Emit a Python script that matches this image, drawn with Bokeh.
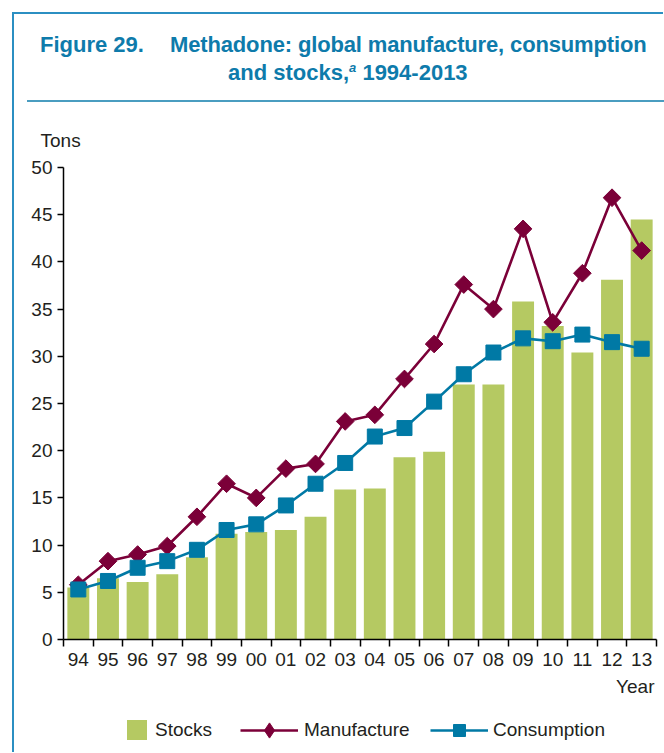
from bokeh.plotting import figure
from bokeh.models import (Range1d, FixedTicker, Legend, LegendItem, Div, Title)
from bokeh.layouts import column, row
from bokeh.embed import file_html
from bokeh.resources import INLINE
import numpy as np

years = ["94", "95", "96", "97", "98", "99", "00", "01", "02", "03",
         "04", "05", "06", "07", "08", "09", "10", "11", "12", "13"]
stocks = [5.5, 6.5, 6.1, 6.9, 8.7, 11.2, 11.4, 11.6, 13.0, 15.9,
          16.0, 19.3, 19.9, 27.0, 27.0, 35.8, 33.2, 30.4, 38.1, 44.5]
manufacture = [5.8, 8.3, 9.0, 9.9, 13.0, 16.5, 15.0, 18.1, 18.6, 23.1,
               23.8, 27.6, 31.3, 37.6, 35.0, 43.5, 33.6, 38.8, 46.8, 41.2]
consumption = [5.3, 6.2, 7.6, 8.3, 9.5, 11.6, 12.2, 14.2, 16.5, 18.7,
               21.5, 22.4, 25.2, 28.1, 30.4, 31.9, 31.6, 32.3, 31.5, 30.8]
y_ticks = [0, 5, 10, 15, 20, 25, 30, 35, 40, 45, 50]

FONT = "Liberation Sans"
TEAL = "#0e7bab"
FRAME = "#2b8fc2"
RULE = "#4a9dc0"
GREEN = "#b5c962"
WINE = "#7b0038"
BLUE = "#0079a5"
INK = "#231f20"
FS = "19px"

xc = [i + 0.5 for i in range(len(years))]

title_html = (
    f'<div style="position:relative;width:650px;height:94px;font-family:\'{FONT}\',Arial,sans-serif;'
    f'font-weight:bold;font-size:22px;line-height:22px;color:{TEAL};white-space:nowrap;">'
    f'<span style="position:absolute;left:26px;top:20px;">Figure 29.</span>'
    f'<span style="position:absolute;left:156px;top:20px;letter-spacing:-0.15px;">Methadone: global manufacture, consumption</span>'
    f'<span style="position:absolute;left:214px;top:48px;">and stocks,'
    f'<span style="font-size:13px;font-style:italic;position:relative;top:-8px;">a</span> 1994-2013</span>'
    f'<div style="position:absolute;left:13px;top:86px;width:637px;height:2px;background:{RULE};"></div>'
    f'</div>'
)
title = Div(text=title_html, width=650, height=94, margin=(0, 0, 0, 0))

p = figure(frame_width=593, frame_height=472, min_border_left=49, min_border_right=4,
           min_border_top=59, min_border_bottom=61,
           x_range=Range1d(0, len(years)), y_range=Range1d(0, 50),
           output_backend="svg", toolbar_location=None, tools="",
           margin=(0, 0, 0, 0))
p.outline_line_color = None
p.xgrid.grid_line_color = None
p.ygrid.grid_line_color = None
p.background_fill_color = "white"
p.border_fill_color = "white"

p.vbar(x=xc, top=stocks, width=0.74, fill_color=GREEN, line_color=None)
p.line(xc, manufacture, line_color=WINE, line_width=2.6)
p.scatter(xc, manufacture, marker="square", angle=np.pi / 4, size=12.5,
          fill_color=WINE, line_color=WINE)
p.line(xc, consumption, line_color=BLUE, line_width=2.6)
p.scatter(xc, consumption, marker="square", size=15, fill_color=BLUE, line_color=BLUE)

for ax in (p.xaxis[0], p.yaxis[0]):
    ax.axis_line_color = "black"
    ax.axis_line_width = 1.5
    ax.major_label_text_font = FONT
    ax.major_label_text_font_size = FS
    ax.major_label_text_color = INK

xa = p.xaxis[0]
xa.ticker = FixedTicker(ticks=xc, minor_ticks=list(range(len(years) + 1)))
xa.major_label_overrides = {x: lab for x, lab in zip(xc, years)}
xa.major_tick_line_color = None
xa.minor_tick_line_color = "black"
xa.minor_tick_line_width = 1.5
xa.minor_tick_out = 7
xa.minor_tick_in = 0
xa.major_label_standoff = 6

ya = p.yaxis[0]
ya.ticker = FixedTicker(ticks=y_ticks, minor_ticks=[])
ya.major_tick_line_color = "black"
ya.major_tick_line_width = 1.5
ya.major_tick_out = 6
ya.major_tick_in = 0
ya.major_label_standoff = 5

p.add_layout(Title(text="Tons", align="left", offset=-23, standoff=33,
                   text_font=FONT, text_font_size=FS, text_font_style="normal",
                   text_color=INK), "above")
p.add_layout(Title(text="Year", align="right", offset=2, standoff=11,
                   text_font=FONT, text_font_size=FS, text_font_style="normal",
                   text_color=INK), "below")

# legend strip (its frame lines up with the chart frame above it)
lf = figure(width=650, height=52, x_range=Range1d(0, 1), y_range=Range1d(0, 1),
            min_border=0, x_axis_location=None, y_axis_location=None,
            output_backend="svg", toolbar_location=None, tools="", margin=(0, 0, 0, 0))
lf.outline_line_color = None
lf.xgrid.grid_line_color = None
lf.ygrid.grid_line_color = None
lf.border_fill_color = "white"
off = [-10]
r_bar = lf.vbar(x=off, top=off, width=0.5, fill_color=GREEN, line_color=None)
r_ml = lf.line(x=off, y=off, line_color=WINE, line_width=2.6)
r_mp = lf.scatter(x=off, y=off, marker="diamond", fill_color=WINE, line_color=WINE)
r_cl = lf.line(x=off, y=off, line_color=BLUE, line_width=2.6)
r_cp = lf.scatter(x=off, y=off, marker="square", fill_color=BLUE, line_color=BLUE)

def mk_legend(label, rends, loc, gw, gh, standoff):
    lg = Legend(items=[LegendItem(label=label, renderers=rends)], location=loc,
                orientation="horizontal", glyph_width=gw, glyph_height=gh,
                label_standoff=standoff, padding=0, margin=0, spacing=0,
                border_line_color=None, background_fill_alpha=0,
                label_text_font=FONT, label_text_font_size=FS, label_text_color=INK)
    lf.add_layout(lg, "center")

mk_legend("Stocks", [r_bar], (61, 12), 25, 25, 6)
mk_legend("Manufacture", [r_ml, r_mp], (177, 5), 58, 38, 6)
mk_legend("Consumption", [r_cl, r_cp], (367, 9), 58, 30, 5)

top_line = Div(text="", width=651, height=2, margin=(0, 0, 0, 0),
               styles={"background-color": FRAME})
left_line = Div(text="", width=2, height=738, margin=(0, 0, 0, 0),
                styles={"background-color": FRAME})

layout = column(top_line, row(left_line, column(title, p, lf, spacing=0), spacing=0),
                spacing=0, margin=(12, 0, 0, 12))

open("out.html", "w").write(file_html(layout, INLINE))
